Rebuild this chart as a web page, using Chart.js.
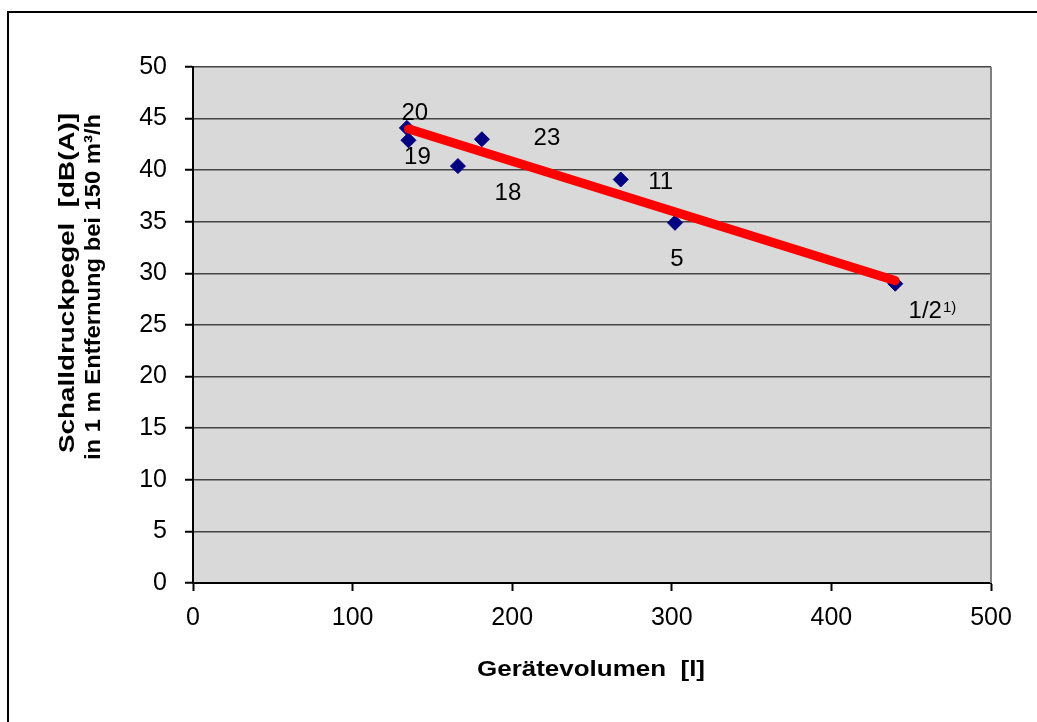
<!DOCTYPE html>
<html>
<head>
<meta charset="utf-8">
<script src="https://cdn.jsdelivr.net/npm/chart.js@4"></script>
<style>
  html, body { margin: 0; padding: 0; background: #fff; }
  #wrap { width: 1037px; height: 722px; }
</style>
</head>
<body>
<div id="wrap"><canvas id="chart"></canvas></div>
<script>
// device numbers, volume [l], sound pressure [dB(A)]
const deviceLabels = ["20", "19", "18", "23", "11", "5", "1/2"];
const volumes = [134, 135, 166, 181, 268, 302, 440];
const soundLevels = [44.1, 42.9, 40.4, 43.0, 39.1, 34.9, 29.0];

// linear trend line end points
const trendX = [135, 440];
const trendY = [44.0, 29.3];

const xTicks = [0, 100, 200, 300, 400, 500];
const yTicks = [0, 5, 10, 15, 20, 25, 30, 35, 40, 45, 50];

// label offsets in px relative to the point (text center)
const labelOffsets = [[8, -15], [9, 17], [50, 27], [65, -1], [40, 3], [2, 37], [30, 28]];

const FONT = "'Liberation Sans', Arial, sans-serif";

const pointData = volumes.map((v, i) => ({ x: v, y: soundLevels[i] }));
const trendData = trendX.map((v, i) => ({ x: v, y: trendY[i] }));

// draw text centered at (cx, cy), stretched to a given width
function stretchText(ctx, text, cx, cy, width, angle) {
  const w = ctx.measureText(text).width;
  ctx.save();
  ctx.translate(cx, cy);
  ctx.rotate(angle || 0);
  ctx.scale(width / w, 1);
  ctx.fillText(text, 0, 0);
  ctx.restore();
}

const decorPlugin = {
  id: "decor",
  beforeDraw(chart) {
    const { ctx, chartArea: a } = chart;
    ctx.save();
    ctx.fillStyle = "#d9d9d9";
    ctx.fillRect(a.left, a.top, a.right - a.left, a.bottom - a.top);
    ctx.restore();
  },
  afterDraw(chart) {
    const { ctx, chartArea: a } = chart;
    const xs = chart.scales.x, ys = chart.scales.y;
    ctx.save();

    // right border of plot
    ctx.strokeStyle = "#808080";
    ctx.lineWidth = 2;
    ctx.beginPath();
    ctx.moveTo(a.right, a.top);
    ctx.lineTo(a.right, a.bottom);
    ctx.stroke();

    // outer frame (left + top)
    ctx.strokeStyle = "#000";
    ctx.lineWidth = 2;
    ctx.beginPath();
    ctx.moveTo(8, 722);
    ctx.lineTo(8, 12);
    ctx.lineTo(1037, 12);
    ctx.stroke();

    // point labels
    ctx.fillStyle = "#000";
    ctx.textAlign = "center";
    ctx.textBaseline = "middle";
    ctx.font = "24px " + FONT;
    deviceLabels.forEach((lab, i) => {
      const px = xs.getPixelForValue(volumes[i]);
      const py = ys.getPixelForValue(soundLevels[i]);
      const [dx, dy] = labelOffsets[i];
      ctx.fillText(lab, px + dx, py + dy);
      if (lab === "1/2") {
        const w = ctx.measureText(lab).width;
        ctx.save();
        ctx.font = "15px " + FONT;
        ctx.textAlign = "left";
        ctx.fillText("1)", px + dx + w / 2 + 1, py + dy - 4);
        ctx.restore();
      }
    });

    // axis titles
    ctx.font = "bold 22px " + FONT;
    stretchText(ctx, "Gerätevolumen  [l]", 591, 670, 228, 0);
    stretchText(ctx, "Schalldruckpegel  [dB(A)]", 68, 283, 340, -Math.PI / 2);
    stretchText(ctx, "in 1 m Entfernung bei 150 m³/h", 94, 287, 346, -Math.PI / 2);

    ctx.restore();
  }
};

new Chart(document.getElementById("chart"), {
  type: "scatter",
  data: {
    datasets: [
      {
        label: "Trend",
        type: "line",
        data: trendData,
        borderColor: "#ff0000",
        borderWidth: 9,
        borderCapStyle: "round",
        pointRadius: 0,
        fill: false,
        order: 1
      },
      {
        label: "Geräte",
        data: pointData,
        pointStyle: "rectRot",
        pointRadius: 7.5,
        pointHoverRadius: 7.5,
        backgroundColor: "#000080",
        borderColor: "#000080",
        borderWidth: 1,
        order: 2
      }
    ]
  },
  options: {
    responsive: true,
    maintainAspectRatio: false,
    animation: false,
    events: [],
    layout: { padding: { left: 0, top: 67, right: 46, bottom: 0 } },
    plugins: {
      legend: { display: false },
      tooltip: { enabled: false }
    },
    scales: {
      x: {
        type: "linear",
        min: 0,
        max: 500,
        afterBuildTicks: (s) => { s.ticks = xTicks.map(v => ({ value: v })); },
        afterFit: (s) => { s.height = 139; },
        grid: { drawOnChartArea: false, drawTicks: true, tickLength: 8, tickColor: "#000", tickWidth: 2 },
        border: { color: "#000", width: 2 },
        ticks: { color: "#000", font: { family: FONT, size: 25 }, padding: 12 }
      },
      y: {
        type: "linear",
        min: 0,
        max: 50,
        afterBuildTicks: (s) => { s.ticks = yTicks.map(v => ({ value: v })); },
        afterFit: (s) => { s.width = 193; },
        grid: { color: "#454545", lineWidth: 1.5, drawTicks: true, tickLength: 8, tickColor: "#000", tickWidth: 2 },
        border: { color: "#000", width: 2 },
        ticks: { color: "#000", font: { family: FONT, size: 25 }, padding: 18 }
      }
    }
  },
  plugins: [decorPlugin]
});
</script>
</body>
</html>
